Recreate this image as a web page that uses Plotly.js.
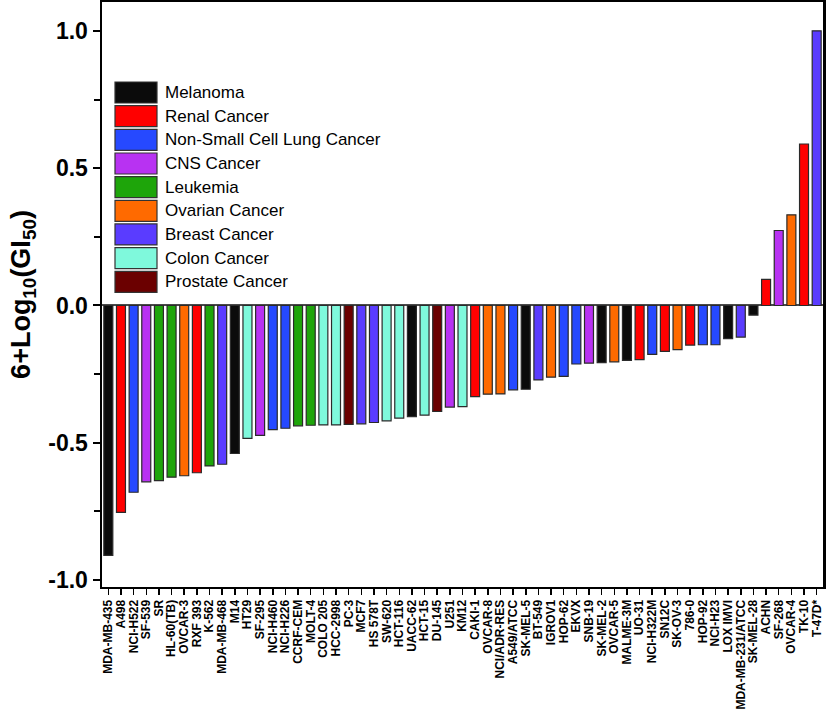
<!DOCTYPE html>
<html>
<head>
<meta charset="utf-8">
<script src="https://cdn.plot.ly/plotly-3.0.1.min.js"></script>
<style>html,body{margin:0;padding:0;background:#fff;}#chart{width:826px;height:715px;}</style>
</head>
<body>
<div id="chart"></div>
<script>
const cellLines = ['MDA-MB-435','A498','NCI-H522','SF-539','SR','HL-60(TB)','OVCAR-3','RXF 393','K-562','MDA-MB-468','M14','HT29','SF-295','NCI-H460','NCI-H226','CCRF-CEM','MOLT-4','COLO 205','HCC-2998','PC-3','MCF7','HS 578T','SW-620','HCT-116','UACC-62','HCT-15','DU-145','U251','KM12','CAKI-1','OVCAR-8','NCI/ADR-RES','A549/ATCC','SK-MEL-5','BT-549','IGROV1','HOP-62','EKVX','SNB-19','SK-MEL-2','OVCAR-5','MALME-3M','UO-31','NCI-H322M','SN12C','SK-OV-3','786-0','HOP-92','NCI-H23','LOX IMVI','MDA-MB-231/ATCC','SK-MEL-28','ACHN','SF-268','OVCAR-4','TK-10','T-47D*'];
const values = [-0.91,-0.753,-0.68,-0.642,-0.638,-0.625,-0.62,-0.609,-0.584,-0.578,-0.539,-0.484,-0.473,-0.452,-0.447,-0.438,-0.436,-0.435,-0.435,-0.433,-0.431,-0.426,-0.42,-0.41,-0.405,-0.399,-0.386,-0.37,-0.368,-0.332,-0.323,-0.322,-0.307,-0.305,-0.271,-0.261,-0.258,-0.213,-0.21,-0.208,-0.205,-0.2,-0.197,-0.178,-0.167,-0.161,-0.144,-0.143,-0.143,-0.121,-0.115,-0.035,0.095,0.273,0.33,0.588,1.0];
const panels = ['Melanoma','Renal Cancer','Non-Small Cell Lung Cancer','CNS Cancer','Leukemia','Ovarian Cancer','Breast Cancer','Colon Cancer','Prostate Cancer'];
const panelColors = ['#0b0b0b','#ff0000','#2649ff','#b832f2','#1ea50a','#ff6a00','#5a3cff','#7ff9dc','#6b0000'];
// panel index of each cell line
const cellPanel = [0,1,2,3,4,4,5,1,4,6,0,7,3,2,2,4,4,7,7,8,6,6,7,7,0,7,8,3,7,1,5,5,2,0,6,5,2,2,3,0,5,0,1,2,1,5,1,2,2,0,6,0,1,3,5,1,6];
const yTickVals = [-1,-0.5,0,0.5,1];
const yTickText = ['-1.0','-0.5','0.0','0.5','1.0'];

const W = 826, H = 715;
const M = {l:102, r:3, t:2, b:128};
const plotW = W - M.l - M.r, plotH = H - M.t - M.b;
const px2x = p => (p - M.l) / plotW;
const px2y = p => 1 - (p - M.t) / plotH;

const font = 'Liberation Sans, Arial, Helvetica, sans-serif';

const trace = {
  type: 'bar',
  x: cellLines,
  y: values,
  marker: {color: cellPanel.map(i => panelColors[i]), line: {color: '#2a2a2a', width: 1.2}},
  showlegend: false,
  hoverinfo: 'x+y'
};

const shapes = [];
const annotations = [];
const legTop = 82, legPitch = 23.66, swH = 21, swX0 = 115, swX1 = 157;
panels.forEach((name, i) => {
  const y0 = legTop + i * legPitch;
  shapes.push({type:'rect', xref:'paper', yref:'paper', x0: px2x(swX0), x1: px2x(swX1), y0: px2y(y0), y1: px2y(y0 + swH),
    fillcolor: panelColors[i], line: {color:'#333', width:1.2}});
  annotations.push({xref:'paper', yref:'paper', x: px2x(163), y: px2y(y0 + swH/2), xanchor:'left', yanchor:'middle',
    text: name, showarrow:false, font:{family:font, size:17, color:'#000'}});
});

const layout = {
  width: W, height: H,
  margin: M,
  paper_bgcolor: '#fff', plot_bgcolor: '#fff',
  bargap: 0.29,
  showlegend: false,
  xaxis: {
    type: 'category', categoryorder: 'array', categoryarray: cellLines,
    range: [-0.5, cellLines.length - 0.5],
    tickmode: 'array', tickvals: cellLines, ticktext: cellLines,
    tickangle: -90, ticks: 'outside', ticklen: 6, tickwidth: 1.5, tickcolor: '#000',
    showline: true, linewidth: 2, linecolor: '#000', mirror: true,
    showgrid: false, zeroline: false, automargin: false,
    tickfont: {family: font, size: 12, weight: 'bold', color: '#000'}
  },
  yaxis: {
    range: [-1.025, 1.105],
    tickmode: 'array', tickvals: yTickVals, ticktext: yTickText,
    ticks: 'outside', ticklen: 7, tickwidth: 2, tickcolor: '#000',
    minor: {tickmode: 'linear', tick0: 0, dtick: 0.25, ticks: 'outside', ticklen: 6, tickwidth: 2, tickcolor: '#000'},
    showline: true, linewidth: 2.5, linecolor: '#000', mirror: true,
    showgrid: false, zeroline: true, zerolinecolor: '#4a4a4a', zerolinewidth: 2,
    automargin: false,
    tickfont: {family: font, size: 23, weight: 'bold', color: '#000'},
    title: {text: '6+Log<sub>10</sub>(GI<sub>50</sub>)', font: {family: font, size: 27, weight: 'bold', color: '#000'}, standoff: 10}
  },
  shapes: shapes,
  annotations: annotations
};

Plotly.newPlot('chart', [trace], layout, {displayModeBar: false, staticPlot: true});
</script>
</body>
</html>
